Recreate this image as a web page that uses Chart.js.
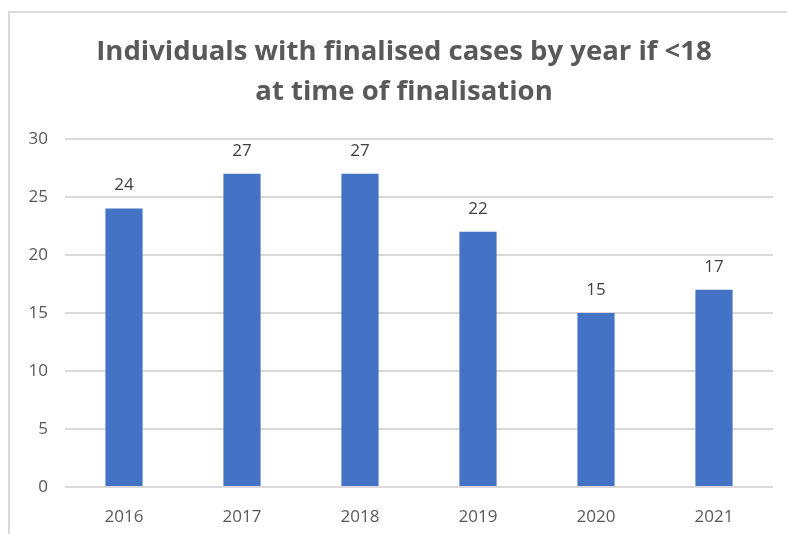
<!DOCTYPE html>
<html>
<head>
<meta charset="utf-8">
<script src="https://cdn.jsdelivr.net/npm/chart.js@4/dist/chart.umd.min.js"></script>
<style>
  html, body { margin: 0; padding: 0; background: #fff; }
  #wrap { position: relative; width: 787px; height: 534px; overflow: hidden; }
  #frame { position: absolute; left: 8px; top: 11px; width: 800px; height: 600px;
           border-left: 2px solid #d9d9d9; border-top: 2px solid #d9d9d9; box-sizing: border-box; }
  canvas { position: absolute; left: 0; top: 0; }
</style>
</head>
<body>
<div id="wrap">
  <div id="frame"></div>
  <canvas id="finalised-chart" width="787" height="534"></canvas>
</div>
<script>
// values
const years = ['2016', '2017', '2018', '2019', '2020', '2021'];
const individuals = [24, 27, 27, 22, 15, 17];
const titleLines = ['Individuals with finalised cases by year if <18', 'at time of finalisation'];

const textGrey = '#595959';

// draws the value above each bar
const barValueLabels = {
    id: 'barValueLabels',
    afterDatasetsDraw(chart) {
        const ctx = chart.ctx;
        const meta = chart.getDatasetMeta(0);
        ctx.save();
        ctx.font = '17px "Open Sans", sans-serif';
        ctx.fillStyle = '#404040';
        ctx.textAlign = 'center';
        ctx.textBaseline = 'middle';
        meta.data.forEach((bar, i) => {
            ctx.fillText(String(chart.data.datasets[0].data[i]), bar.x, bar.y - 23);
        });
        ctx.restore();
    }
};

// nudges the title box so the title centres where the original does
const shiftTitle = {
    id: 'shiftTitle',
    afterLayout(chart) {
        if (chart.titleBlock) chart.titleBlock.left = 35;
    }
};

new Chart('finalised-chart', {
    type: 'bar',
    data: {
        labels: years,
        datasets: [{
            data: individuals,
            backgroundColor: '#4472C4',
            categoryPercentage: 1,
            barPercentage: 0.315
        }]
    },
    options: {
        responsive: false,
        animation: false,
        layout: { padding: { left: 8, right: 14, top: 0, bottom: 0 } },
        plugins: {
            legend: { display: false },
            tooltip: { enabled: false },
            title: {
                display: true,
                text: titleLines,
                color: textGrey,
                font: { family: '"Open Sans", sans-serif', size: 27.5, weight: 'bold', lineHeight: 1.47 },
                padding: { top: 32, bottom: 26 }
            }
        },
        scales: {
            x: {
                grid: { display: false },
                border: { display: false },
                ticks: { color: textGrey, font: { family: '"Open Sans", sans-serif', size: 17 }, padding: 12 },
                afterFit(scale) { scale.height = 47; }
            },
            y: {
                min: 0,
                max: 30,
                ticks: { stepSize: 5, color: textGrey, font: { family: '"Open Sans", sans-serif', size: 17 }, padding: 17 },
                grid: { color: '#d9d9d9', lineWidth: 2, drawTicks: false },
                border: { display: false },
                afterFit(scale) { scale.width = 57; }
            }
        }
    },
    plugins: [barValueLabels, shiftTitle]
});
</script>
</body>
</html>
